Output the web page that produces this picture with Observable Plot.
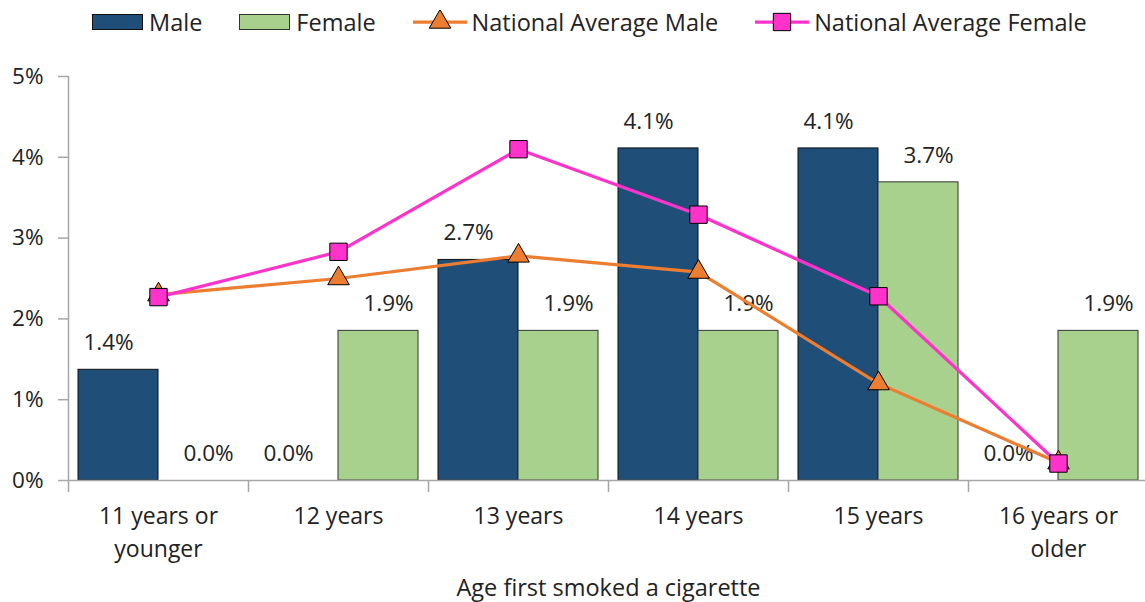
<!DOCTYPE html>
<html>
<head>
<meta charset="utf-8">
<script src="https://cdn.jsdelivr.net/npm/d3@7"></script>
<script src="https://cdn.jsdelivr.net/npm/@observablehq/plot@0.6"></script>
<style>
  html, body { margin: 0; padding: 0; background: #fff; overflow: hidden; }
  body { width: 1145px; height: 602px; font-family: "Open Sans", sans-serif; color: #222; }
  #legend { display: flex; align-items: center; height: 44px; padding-left: 92px; font-size: 23.5px; white-space: nowrap; }
  .item { display: flex; align-items: center; margin-right: 37px; }
  .sw { width: 49px; height: 14px; margin-right: 6px; }
  .ln { margin-right: 5px; }
  #chart svg { max-width: none !important; }
</style>
</head>
<body>
<div id="legend"></div>
<div id="chart"></div>
<script>
// ---- data ----
const categories = ["11 years or younger", "12 years", "13 years", "14 years", "15 years", "16 years or older"];
const tickLabels = ["11 years or\nyounger", "12 years", "13 years", "14 years", "15 years", "16 years or\nolder"];
const maleValues = [1.37, 0, 2.73, 4.11, 4.11, 0];
const femaleValues = [0, 1.852, 1.852, 1.852, 3.69, 1.852];
const natAvgMale = [2.30, 2.50, 2.78, 2.58, 1.20, 0.22];
const natAvgFemale = [2.27, 2.83, 4.10, 3.29, 2.28, 0.21];
const yTicks = [0, 1, 2, 3, 4, 5];
const seriesNames = ["Male", "Female", "National Average Male", "National Average Female"];
const xTitle = "Age first smoked a cigarette";

// ---- styles ----
const colMale = "#1F4E79";
const colFemale = "#A9D18E";
const colNatMale = "#ED7D31";
const colNatFemale = "#FF33CC";
const axisGray = "#A6A6A6";
const textCol = "#222";

// ---- legend ----
const legend = d3.select("#legend");
function barItem(name, fill, stroke) {
  const it = legend.append("div").attr("class", "item");
  it.append("div").attr("class", "sw").style("background", fill).style("border", `1px solid ${stroke}`);
  it.append("span").text(name);
}
function lineItem(name, color, symbol, size) {
  const it = legend.append("div").attr("class", "item");
  const svg = it.append("svg").attr("class", "ln").attr("width", 54).attr("height", 24);
  svg.append("line").attr("x1", 0).attr("x2", 54).attr("y1", 12).attr("y2", 12)
    .attr("stroke", color).attr("stroke-width", 3.25);
  svg.append("path").attr("transform", "translate(27,12)")
    .attr("d", d3.symbol(symbol, size)()).attr("fill", color).attr("stroke", "#000").attr("stroke-width", 1);
  it.append("span").text(name);
}
barItem(seriesNames[0], colMale, "#111");
barItem(seriesNames[1], colFemale, "#333");
lineItem(seriesNames[2], colNatMale, d3.symbolTriangle, 200);
lineItem(seriesNames[3], colNatFemale, d3.symbolSquare, 300);

// ---- chart ----
const W = 1150, H = 558, mL = 68, mR = 2, mT = 32, mB = 122;
const step = (W - mL - mR) / categories.length;
const barPad = 10;

const male = categories.map((c, i) => ({cat: c, value: maleValues[i]}));
const female = categories.map((c, i) => ({cat: c, value: femaleValues[i]}));
const nMale = categories.map((c, i) => ({cat: c, value: natAvgMale[i]}));
const nFemale = categories.map((c, i) => ({cat: c, value: natAvgFemale[i]}));
const fmt = v => d3.format(".1%")(v / 100);

const chart = Plot.plot({
  width: W, height: H,
  marginLeft: mL, marginRight: mR, marginTop: mT, marginBottom: mB,
  style: {fontFamily: "Open Sans", fontSize: "22px", color: textCol, background: "#fff", overflow: "visible", maxWidth: "none"},
  x: {domain: categories, padding: 0, axis: null},
  y: {domain: [0, 5], axis: null},
  marks: [
    Plot.axisY({ticks: yTicks, tickFormat: d => d + "%", tickSize: 10, tickPadding: 15, label: null,
      stroke: axisGray, fill: textCol, fontSize: 22.5, strokeWidth: 1.5}),
    Plot.axisX({tickSize: 0, tickPadding: 21, fontSize: 23, lineHeight: 1.4, fill: textCol, label: null,
      tickFormat: d => tickLabels[categories.indexOf(d)]}),
    Plot.text([xTitle], {frameAnchor: "bottom", lineAnchor: "middle", dy: 108, fontSize: 23.5, fill: textCol}),
    Plot.barY(male.filter(d => d.value > 0), {x: "cat", y: "value", fill: colMale, stroke: "#111", strokeWidth: 1,
      insetLeft: barPad, insetRight: step / 2}),
    Plot.barY(female.filter(d => d.value > 0), {x: "cat", y: "value", fill: colFemale, stroke: "#333", strokeWidth: 1,
      insetLeft: step / 2, insetRight: barPad}),
    Plot.ruleY([0], {stroke: axisGray, strokeWidth: 1.5}),
    Plot.ruleX([categories[0]], {x: d => d, dx: -step / 2, stroke: axisGray, strokeWidth: 1.5}),
    Plot.ruleX(categories, {x: d => d, y1: 0, y2: 0, dx: -step / 2, insetBottom: -12, stroke: axisGray, strokeWidth: 1.5}),
    Plot.text(male, {x: "cat", y: "value", text: d => fmt(d.value), dx: -step / 4 - barPad / 2, dy: -27, fontSize: 22.5, fill: textCol}),
    Plot.text(female, {x: "cat", y: "value", text: d => fmt(d.value), dx: step / 4 + barPad / 2, dy: -27, fontSize: 22.5, fill: textCol}),
    Plot.line(nMale, {x: "cat", y: "value", stroke: colNatMale, strokeWidth: 3.25}),
    Plot.dot(nMale, {x: "cat", y: "value", symbol: "triangle", r: 8, fill: colNatMale, stroke: "#000", strokeWidth: 1}),
    Plot.line(nFemale, {x: "cat", y: "value", stroke: colNatFemale, strokeWidth: 3.25}),
    Plot.dot(nFemale, {x: "cat", y: "value", symbol: "square", r: 9.8, fill: colNatFemale, stroke: "#000", strokeWidth: 1})
  ]
});
document.getElementById("chart").appendChild(chart);
</script>
</body>
</html>
